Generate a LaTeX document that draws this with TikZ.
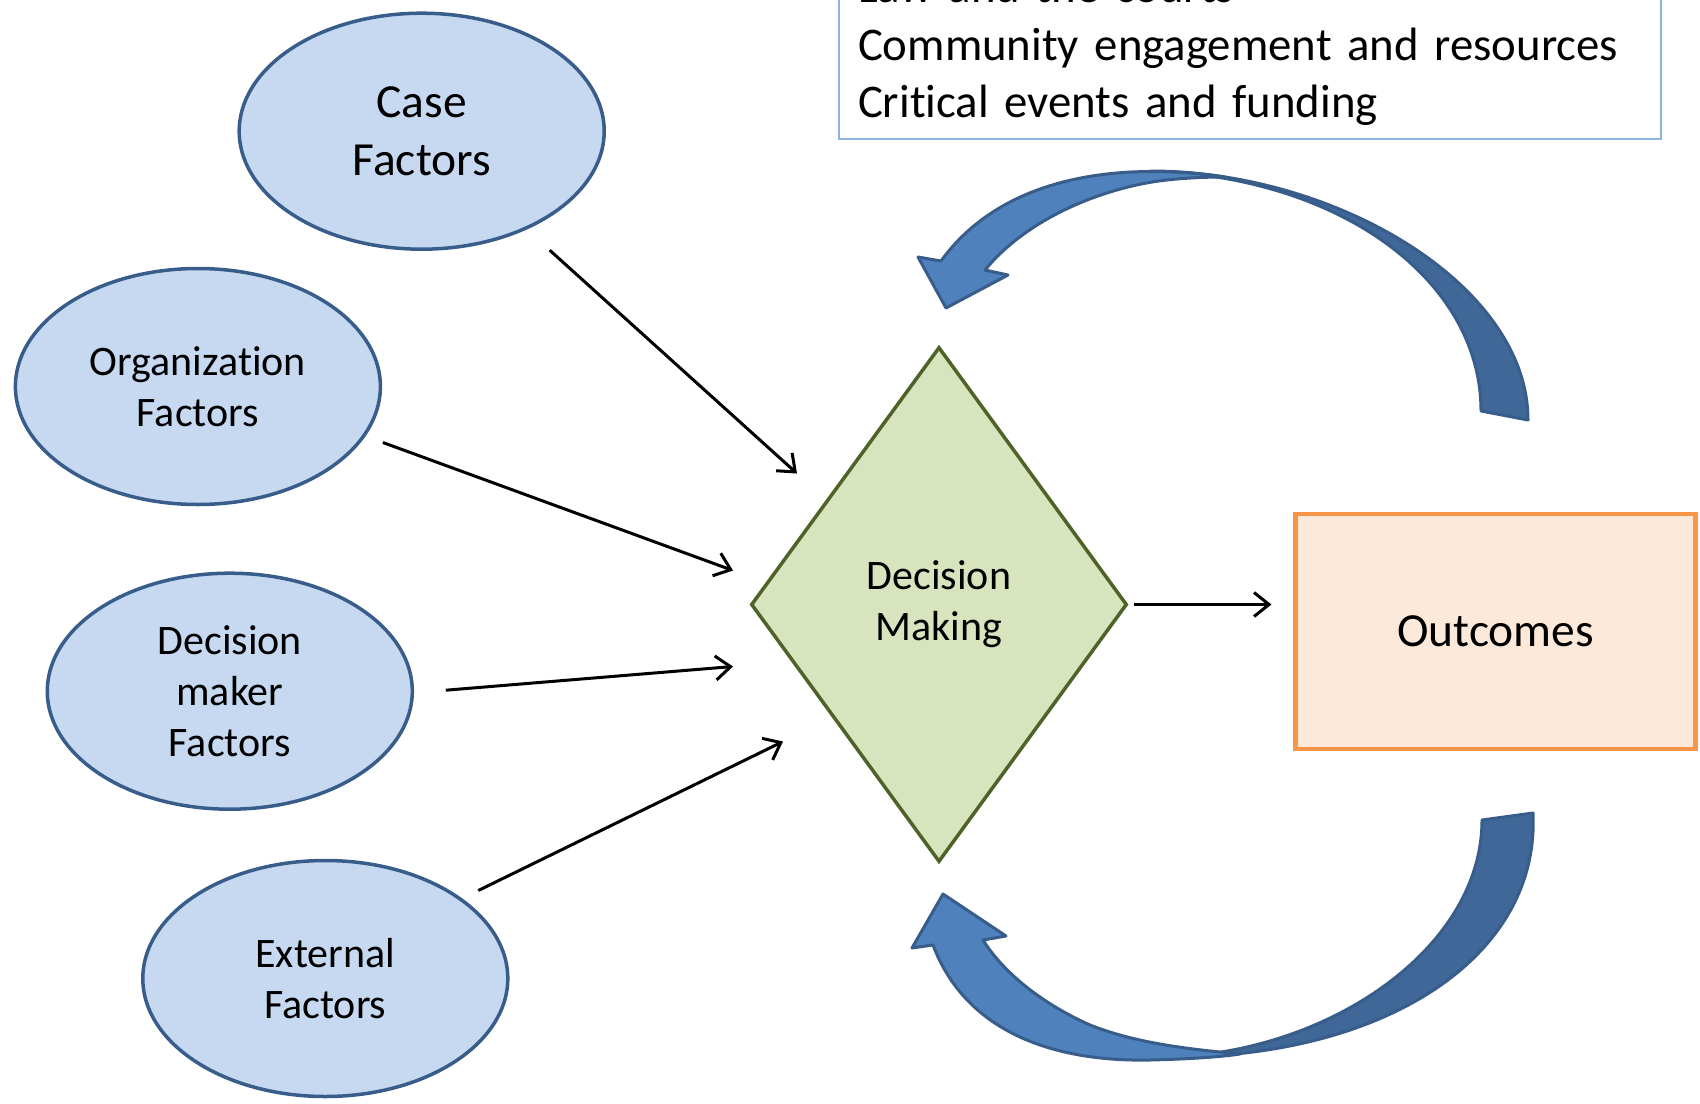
\documentclass[tikz,border=0pt]{standalone}
\usepackage{fontspec}
\setmainfont{Carlito}[Ligatures=NoCommon]
\usepackage{xcolor}
\usepackage{tikz}
\usetikzlibrary{shapes.geometric, arrows.meta, calc}

\definecolor{ellfill}{HTML}{C6D9F1}
\definecolor{ellline}{HTML}{385D8A}
\definecolor{dmfill}{HTML}{D7E4BD}
\definecolor{dmline}{HTML}{4F6228}
\definecolor{outfill}{HTML}{FDE9D9}
\definecolor{outedge}{HTML}{F79646}
\definecolor{ctxline}{HTML}{8EB4E3}
\definecolor{frontblue}{HTML}{4F81BD}
\definecolor{backblue}{HTML}{3F6797}

\begin{document}
\begin{tikzpicture}[x=1pt, y=-1pt,
  factor/.style={ellipse, draw=ellline, fill=ellfill, line width=3.5pt, minimum width=365pt, minimum height=236pt, inner sep=0pt, align=center, font=\fontsize{42}{51}\selectfont},
  arr/.style={line width=3pt, -{Straight Barb[length=15pt, width=24pt]}},
  band/.style={draw=ellline, line width=3pt, line join=round}]
\useasboundingbox (0,0) rectangle (1700,1103);

\node[factor, font=\fontsize{47.5}{57.5}\selectfont] (case) at (421.7,131.2) {Case\\Factors};
\node[factor] (org) at (197.9,386.5) {Organization\\Factors};
\node[factor] (mk) at (229.8,691.2) {Decision\\maker\\Factors};
\node[factor] (ext) at (325.3,978.5) {External\\Factors};

\node[diamond, draw=dmline, fill=dmfill, line width=3.5pt, minimum width=376pt, minimum height=515pt, inner sep=0pt, align=center, font=\fontsize{42}{51}\selectfont] (dm) at (939,604.5) {Decision\\Making};

\node[draw=outedge, fill=outfill, line width=4.5pt, minimum width=400pt, minimum height=235pt, font=\fontsize{47.5}{57.5}\selectfont] (out) at (1495.7,631.5) {Outcomes};

\node[draw=ctxline, line width=2pt, anchor=south west, align=left, text width=784pt, inner xsep=19pt, inner ysep=13pt, font=\fontsize{46.8}{57.5}\selectfont] (ctx) at (838,140) {Law and the courts\\Community engagement and resources\\Critical events and funding};

\draw[arr] ($(case.center)+(128,119)$) -- ($(dm.center)+(-142,-131)$);
\draw[arr] ($(org.center)+(185,56)$) -- ($(dm.center)+(-206,-34)$);
\draw[arr] ($(mk.center)+(216,-1)$) -- ($(dm.center)+(-206,62)$);
\draw[arr] ($(ext.center)+(153,-88)$) -- ($(dm.center)+(-156,137)$);
\draw[arr, shorten <=5pt, shorten >=22pt] (dm.east) -- (dm.east -| out.west);

% feedback arrows
\draw[band, fill=backblue] (1481,411) -- (1528,420) .. controls (1528,285) and (1336,171) .. (1150,171) .. controls (1340,176) and (1481,280) .. (1481,411) -- cycle;
\draw[band, fill=frontblue] (941,261) .. controls (985,200) and (1060,172) .. (1150,171.5) .. controls (1180,171.5) and (1205,174) .. (1225,177) .. controls (1205,177) and (1185,178) .. (1167,180) .. controls (1110,186) and (1030,215) .. (985,270) -- (1008,275) -- (946,308) -- (918,257) -- cycle;
\draw[band, fill=backblue] (1482,820) -- (1533,813) .. controls (1540,960) and (1380,1058) .. (1170,1057) .. controls (1330,1052) and (1482,948) .. (1482,820) -- cycle;
\draw[band, fill=frontblue] (933,945) .. controls (965,1030) and (1050,1062) .. (1150,1060) .. controls (1190,1059) and (1220,1057) .. (1240,1054) .. controls (1200,1050) and (1140,1045) .. (1090,1025) .. controls (1045,1005) and (1005,975) .. (983,940) -- (1006,936) -- (943,894) -- (912,948) -- cycle;
\end{tikzpicture}
\end{document}
